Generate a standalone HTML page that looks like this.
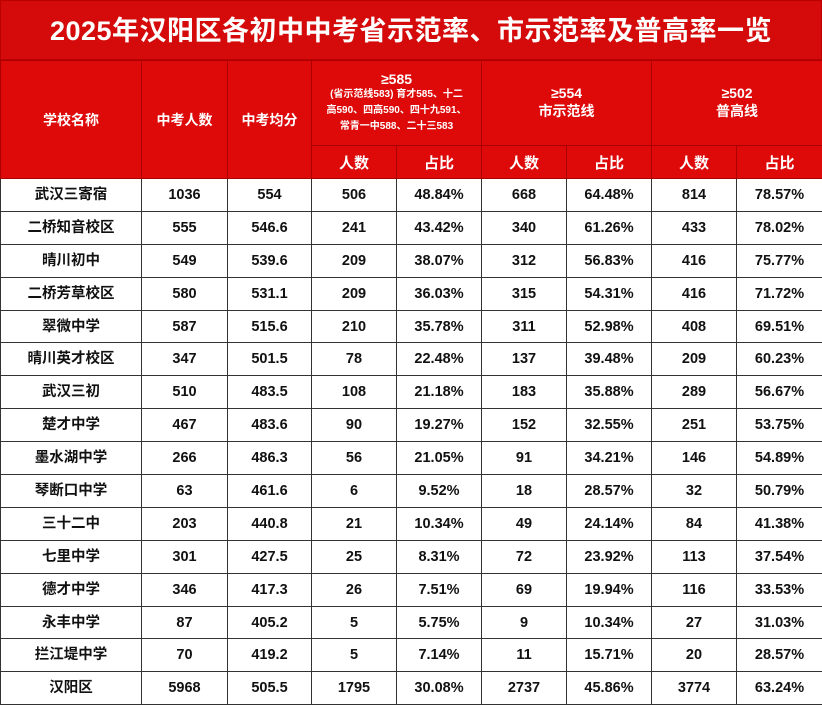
<!DOCTYPE html>
<html><head><meta charset="utf-8"><style>
body{margin:0;width:822px;height:708px;overflow:hidden;background:#fff;font-family:"Liberation Sans","Noto Sans CJK SC",sans-serif;}
#title{position:absolute;left:0;top:0;width:822px;height:60px;background:#d50b0b;color:#fff;font-size:27px;font-weight:bold;text-align:center;line-height:60px;letter-spacing:0.5px;box-sizing:border-box;border:1px solid #b00;}
table{position:absolute;left:0;top:60px;border-collapse:collapse;table-layout:fixed;width:822px;}
td,th{border:1px solid #333;text-align:center;padding:0;overflow:hidden;white-space:nowrap;vertical-align:middle;}
th{background:#de0a0a;color:#fff;font-weight:bold;border-color:#a00;}
th.big{font-size:14px;}
th.sub{font-size:15px;height:32px;}
td{font-size:14.5px;font-weight:bold;color:#111;height:31.9px;line-height:16px;}
.small{font-size:10px;line-height:16px;font-weight:bold;}
</style></head><body>
<div id="title">2025年汉阳区各初中中考省示范率、市示范率及普高率一览</div>
<table>
<colgroup><col style="width:141px"><col style="width:86px"><col style="width:84px"><col style="width:85px"><col style="width:85px"><col style="width:85px"><col style="width:85px"><col style="width:85px"><col style="width:86px"></colgroup>
<tr style="height:85px">
<th class="big" rowspan="2">学校名称</th>
<th class="big" rowspan="2">中考人数</th>
<th class="big" rowspan="2">中考均分</th>
<th colspan="2"><div style="font-size:14px">≥585</div><div class="small">(省示范线583) 育才585、十二<br>高590、四高590、四十九591、<br>常青一中588、二十三583</div></th>
<th class="big" colspan="2">≥554<br>市示范线</th>
<th class="big" colspan="2">≥502<br>普高线</th>
</tr>
<tr>
<th class="sub">人数</th><th class="sub">占比</th>
<th class="sub">人数</th><th class="sub">占比</th>
<th class="sub">人数</th><th class="sub">占比</th>
</tr>
<tbody id="body"></tbody>
</table>
<script>
const schools=["武汉三寄宿","二桥知音校区","晴川初中","二桥芳草校区","翠微中学","晴川英才校区","武汉三初","楚才中学","墨水湖中学","琴断口中学","三十二中","七里中学","德才中学","永丰中学","拦江堤中学","汉阳区"];
const examCounts=[1036,555,549,580,587,347,510,467,266,63,203,301,346,87,70,5968];
const avgScores=["554","546.6","539.6","531.1","515.6","501.5","483.5","483.6","486.3","461.6","440.8","427.5","417.3","405.2","419.2","505.5"];
const provCounts=[506,241,209,209,210,78,108,90,56,6,21,25,26,5,5,1795];
const provRatios=["48.84%","43.42%","38.07%","36.03%","35.78%","22.48%","21.18%","19.27%","21.05%","9.52%","10.34%","8.31%","7.51%","5.75%","7.14%","30.08%"];
const cityCounts=[668,340,312,315,311,137,183,152,91,18,49,72,69,9,11,2737];
const cityRatios=["64.48%","61.26%","56.83%","54.31%","52.98%","39.48%","35.88%","32.55%","34.21%","28.57%","24.14%","23.92%","19.94%","10.34%","15.71%","45.86%"];
const genCounts=[814,433,416,416,408,209,289,251,146,32,84,113,116,27,20,3774];
const genRatios=["78.57%","78.02%","75.77%","71.72%","69.51%","60.23%","56.67%","53.75%","54.89%","50.79%","41.38%","37.54%","33.53%","31.03%","28.57%","63.24%"];
const body=document.getElementById('body');
schools.forEach((s,i)=>{
 const tr=document.createElement('tr');
 
 
 [s,examCounts[i],avgScores[i],provCounts[i],provRatios[i],cityCounts[i],cityRatios[i],genCounts[i],genRatios[i]].forEach(v=>{
  const td=document.createElement('td');
  
  
  td.textContent=v;tr.appendChild(td);
 });
 body.appendChild(tr);
});
</script>
</body></html>
